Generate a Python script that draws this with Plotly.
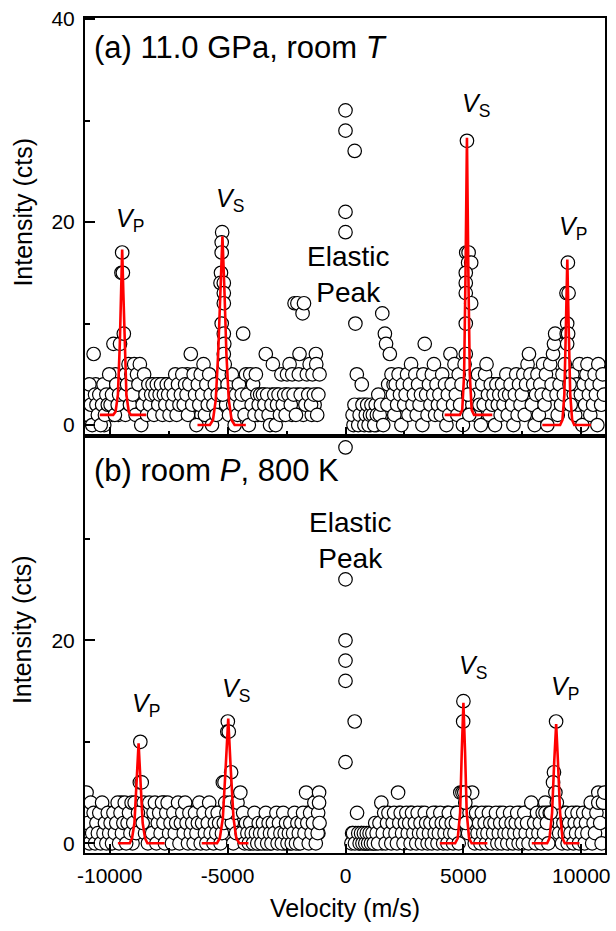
import plotly.graph_objects as go

# ---------------- data: panel (a) 11.0 GPa, room T ----------------
A_BG = [
    (-10980, 3), (-10920, 1), (-10860, 4), (-10800, 2), (-10740, 0), (-10680, 7), (-10620, 3), (-10560, 2),
    (-10500, 1), (-10440, 3), (-10380, 0), (-10320, 2), (-10260, 4), (-10200, 1), (-10140, 3), (-10080, 2),
    (-10020, 5), (-9960, 2), (-9900, 3), (-9840, 8), (-9780, 1), (-9720, 4), (-9660, 2), (-9600, 3),
    (-9360, 3), (-9320, 5), (-9260, 4), (-9200, 6), (-9140, 2), (-9080, 5), (-9020, 3), (-8960, 6),
    (-8900, 1), (-8840, 5), (-8780, 4), (-8720, 6), (-8660, 0), (-8600, 2), (-8540, 5), (-8480, 3),
    (-8420, 1), (-8360, 4), (-8300, 2), (-8240, 3), (-8180, 4), (-8120, 1), (-8060, 3), (-8000, 4),
    (-7940, 2), (-7880, 3), (-7820, 4), (-7760, 1), (-7700, 3), (-7640, 2), (-7580, 4), (-7520, 3),
    (-7460, 1), (-7400, 4), (-7340, 2), (-7280, 3), (-7220, 5), (-7160, 1), (-7100, 4), (-7040, 2),
    (-6980, 3), (-6920, 5), (-6860, 2), (-6800, 4), (-6740, 3), (-6680, 1), (-6620, 4), (-6560, 7),
    (-6500, 2), (-6440, 5), (-6380, 3), (-6320, 0), (-6260, 4), (-6200, 2), (-6140, 5), (-6080, 3),
    (-6020, 6), (-5960, 1), (-5900, 4), (-5840, 2), (-5780, 5), (-5720, 3), (-5660, 0), (-5600, 2),
    (-5540, 4), (-5480, 1), (-5420, 3), (-5060, 2), (-5000, 4), (-4940, 1), (-4880, 3), (-4820, 5),
    (-4760, 2), (-4700, 0), (-4640, 3), (-4580, 1), (-4520, 4), (-4460, 2), (-4400, 3), (-4340, 9),
    (-4280, 1), (-4220, 5), (-4160, 3), (-4100, 0), (-4040, 5), (-3980, 2), (-3920, 4), (-3860, 1),
    (-3800, 5), (-3740, 3), (-3680, 2), (-3620, 3), (-3560, 1), (-3500, 3), (-3440, 2), (-3380, 7),
    (-3320, 3), (-3260, 1), (-3200, 0), (-3140, 2), (-3080, 6), (-3020, 3), (-2960, 0), (-2900, 2),
    (-2840, 3), (-2780, 1), (-2720, 5), (-2660, 2), (-2600, 3), (-2540, 1), (-2480, 5), (-2420, 3),
    (-2370, 6), (-2320, 2), (-2260, 5), (-2200, 3), (-2160, 12), (-2100, 1), (-2040, 12), (-1980, 5),
    (-1950, 7), (-1900, 3), (-1820, 11), (-1760, 12), (-1700, 2), (-1640, 5), (-1580, 3), (-1520, 6),
    (-1460, 2), (-1400, 5), (-1340, 3), (-1255, 7), (-1240, 6), (-1200, 1), (-1150, 3), (-1100, 5),
    (300, 1), (380, 2), (480, 5), (540, 0), (600, 1), (690, 4), (720, 2), (800, 0),
    (860, 1), (920, 2), (980, 0), (1040, 1), (1100, 2), (1160, 1), (1220, 0), (1280, 2),
    (1330, 1), (1390, 3), (1450, 1), (1500, 2), (1560, 11), (1600, 0), (1670, 9), (1720, 8),
    (1780, 2), (1880, 7), (1950, 5), (2010, 3), (2070, 1), (2130, 4), (2190, 2), (2250, 5),
    (2310, 3), (2370, 0), (2430, 4), (2490, 2), (2550, 3), (2610, 5), (2670, 1), (2730, 4),
    (2780, 6), (2840, 2), (2900, 3), (2960, 5), (3020, 1), (3080, 4), (3140, 2), (3200, 3),
    (3260, 0), (3300, 5), (3360, 8), (3420, 3), (3480, 1), (3540, 4), (3600, 2), (3660, 5),
    (3720, 3), (3750, 6), (3800, 1), (3860, 4), (3920, 2), (3980, 3), (4040, 1), (4100, 5),
    (4160, 2), (4220, 4), (4280, 0), (4340, 3), (4400, 1), (4450, 7), (4500, 4), (4560, 2),
    (4620, 6), (4680, 3), (4740, 1), (4800, 5), (4860, 2), (4920, 4), (4980, 0),
    (5380, 2), (5440, 4), (5500, 1), (5560, 3), (5620, 5), (5680, 2), (5740, 0), (5800, 4),
    (5860, 2), (5920, 5), (5980, 6), (6040, 3), (6100, 1), (6160, 4), (6220, 2), (6280, 3),
    (6340, 0), (6400, 4), (6460, 2), (6520, 3), (6580, 1), (6640, 4), (6700, 2), (6760, 3),
    (6820, 5), (6880, 1), (6940, 3), (7000, 4), (7060, 2), (7120, 0), (7180, 3), (7240, 5),
    (7300, 1), (7360, 4), (7420, 2), (7480, 3), (7540, 5), (7600, 1), (7660, 4), (7720, 6),
    (7780, 7), (7840, 5), (7900, 2), (7960, 4), (8020, 0), (8080, 3), (8140, 5), (8200, 1),
    (8260, 4), (8320, 3), (8380, 6), (8440, 2), (8500, 5), (8560, 0), (8620, 3), (8680, 6),
    (8740, 4), (8800, 7), (8840, 8), (8890, 9), (8950, 3), (9000, 1), (9080, 4), (9140, 2),
    (9200, 5), (9260, 3), (9620, 5), (9680, 3), (9740, 1), (9800, 4), (9860, 2), (9920, 6),
    (9980, 3), (10040, 0), (10100, 4), (10160, 2), (10220, 5), (10260, 6), (10320, 3), (10380, 1),
    (10440, 4), (10500, 2), (10560, 5), (10620, 3), (10680, 0), (10720, 6), (10780, 4), (10840, 2),
    (10900, 5), (10960, 3),
]
# second interleaved scan, panel (a)
A_BG2 = [
    (-10950, 1), (-10830, 3), (-10710, 2), (-10590, 4), (-10470, 2), (-10350, 3), (-10230, 0), (-10110, 4),
    (-9990, 3), (-9870, 1), (-9750, 5), (-9630, 1), (-9330, 1), (-9230, 3), (-9110, 4), (-8990, 2),
    (-8870, 3), (-8750, 2), (-8630, 4), (-8510, 2), (-8390, 3), (-8270, 4), (-8150, 3), (-8030, 2),
    (-7910, 4), (-7790, 3), (-7670, 4), (-7550, 2), (-7430, 3), (-7310, 4), (-7190, 3), (-7070, 3),
    (-6950, 2), (-6830, 3), (-6710, 5), (-6590, 3), (-6470, 1), (-6350, 2), (-6230, 3), (-6110, 1),
    (-5990, 4), (-5870, 3), (-5750, 2), (-5630, 4), (-5510, 3), (-5030, 3), (-4910, 2), (-4790, 4),
    (-4670, 1), (-4550, 3), (-4430, 4), (-4310, 2), (-4190, 1), (-4070, 3), (-3950, 3), (-3830, 2),
    (-3710, 1), (-3590, 2), (-3470, 3), (-3350, 1), (-3230, 2), (-3110, 3), (-2990, 1), (-2870, 3),
    (-2750, 2), (-2630, 1), (-2510, 3), (-2390, 2), (-2270, 1), (-2150, 2), (-2030, 3), (-1910, 2),
    (-1790, 1), (-1670, 3), (-1550, 2), (-1430, 1), (-1310, 2), (-1190, 3),
    (340, 0), (460, 1), (580, 2), (700, 1), (820, 2), (940, 1), (1060, 0), (1180, 2),
    (1300, 0), (1420, 2), (1540, 1), (1660, 2), (1810, 4), (1920, 2), (2040, 4), (2160, 3),
    (2280, 2), (2400, 3), (2520, 4), (2640, 3), (2760, 2), (2880, 4), (3000, 3), (3120, 4),
    (3240, 2), (3380, 4), (3500, 3), (3620, 4), (3740, 2), (3880, 3), (4000, 4), (4120, 3),
    (4240, 2), (4380, 4), (4520, 3), (4640, 4), (4760, 3), (4880, 3),
    (5410, 3), (5530, 4), (5650, 3), (5770, 3), (5890, 4), (6010, 2), (6130, 3), (6250, 4),
    (6370, 3), (6490, 4), (6610, 3), (6730, 4), (6850, 3), (6970, 2), (7090, 3), (7210, 4),
    (7330, 3), (7450, 4), (7570, 3), (7690, 2), (7810, 3), (7930, 3), (8050, 4), (8170, 3),
    (8290, 2), (8410, 4), (8530, 3), (8650, 4), (8770, 5), (9110, 3), (9230, 4), (9590, 3),
    (9710, 4), (9830, 3), (9950, 4), (10070, 3), (10190, 4), (10310, 2), (10430, 3), (10550, 4),
    (10670, 3), (10790, 5), (10910, 4),
]
A_PEAKS = [
    (-9560, 8), (-9500, 15), (-9470, 17), (-9440, 15), (-9400, 9),
    (-5230, 19), (-5250, 18), (-5250, 17), (-5280, 15), (-5300, 14), (-5160, 14), (-5160, 13),
    (-5160, 12), (-5250, 10), (-5160, 9), (-5140, 8), (-5160, 7), (-5120, 6), (-5200, 3),
    (5150, 28), (5120, 17), (5220, 17), (5200, 16), (5330, 16), (5100, 15), (5100, 14), (5100, 13),
    (5330, 12), (5100, 10), (5100, 7), (5050, 6), (5200, 3), (5250, 1),
    (9430, 16), (9370, 13), (9460, 13), (9400, 10), (9380, 9), (9440, 9), (9400, 8), (9300, 6),
    (9500, 4), (9550, 2),
]
A_ELASTIC = [(0, 31), (0, 29), (0, 21), (0, 19), (390, 27), (420, 10)]

# fitted curves, panel (a)
A_FIT_VP_L_X = [-10420, -9850, -9750, -9650, -9570, -9520, -9470, -9420, -9370, -9290, -9190, -9100, -8450]
A_FIT_VP_L_Y = [1, 1, 1.3, 3, 8, 13, 17.3, 13, 8, 3, 1.3, 1, 1]
A_FIT_VS_L_X = [-6276, -5750, -5620, -5500, -5400, -5320, -5218, -5130, -5050, -4950, -4830, -4700, -4226]
A_FIT_VS_L_Y = [0, 0, 0.5, 2.5, 7, 13, 18.6, 13, 7, 2.5, 0.5, 0, 0]
A_FIT_VS_R_X = [4205, 4850, 4950, 5030, 5090, 5150, 5210, 5270, 5350, 5450, 6226]
A_FIT_VS_R_Y = [1, 1, 1.5, 5, 15, 28.3, 15, 5, 1.5, 1, 1]
A_FIT_VP_R_X = [8347, 9100, 9200, 9280, 9340, 9406, 9470, 9530, 9610, 9700, 10410]
A_FIT_VP_R_Y = [0, 0, 0.5, 3, 9, 16.3, 9, 3, 0.5, 0, 0]

# ---------------- data: panel (b) room P, 800 K ----------------
B_BG = [
    (-10980, 5), (-10920, 2), (-10860, 0), (-10800, 4), (-10740, 1), (-10680, 3), (-10620, 0), (-10560, 2),
    (-10500, 1), (-10440, 3), (-10380, 0), (-10320, 4), (-10260, 1), (-10200, 2), (-10140, 0), (-10080, 3),
    (-10020, 1), (-9960, 2), (-9900, 0), (-9840, 3), (-9780, 1), (-9720, 2), (-9660, 4), (-9600, 0),
    (-9540, 3), (-9480, 1), (-9420, 2), (-9360, 4), (-9300, 0), (-9240, 2), (-9180, 3), (-9120, 1),
    (-9070, 4), (-9000, 2), (-8940, 4), (-8880, 1),
    (-8560, 4), (-8500, 1), (-8440, 3), (-8380, 0), (-8320, 4), (-8260, 2), (-8200, 1), (-8140, 3),
    (-8080, 4), (-8020, 0), (-7960, 2), (-7900, 3), (-7840, 1), (-7780, 4), (-7720, 2), (-7660, 0),
    (-7600, 3), (-7540, 4), (-7480, 1), (-7420, 2), (-7360, 0), (-7300, 3), (-7240, 1), (-7180, 2),
    (-7100, 4), (-7040, 0), (-6980, 2), (-6920, 3), (-6860, 1), (-6800, 4), (-6740, 2), (-6680, 0),
    (-6620, 3), (-6560, 1), (-6500, 2), (-6440, 0), (-6380, 3), (-6320, 1), (-6260, 2), (-6200, 4),
    (-6140, 0), (-6080, 2), (-6020, 3), (-5960, 1), (-5900, 0), (-5840, 2), (-5780, 4), (-5720, 1),
    (-5660, 3), (-5600, 0), (-5540, 2), (-5480, 1), (-5420, 3), (-5360, 2), (-5300, 0), (-5240, 1),
    (-5160, 2), (-5100, 4), (-4900, 4), (-4820, 2), (-4760, 0), (-4700, 3), (-4640, 1), (-4580, 4),
    (-4400, 1), (-4340, 3), (-4280, 0), (-4220, 2), (-4160, 1), (-4100, 0), (-4040, 2), (-3980, 1),
    (-3920, 0), (-3860, 3), (-3800, 1), (-3740, 0), (-3680, 2), (-3620, 1), (-3560, 0), (-3500, 2),
    (-3440, 1), (-3380, 3), (-3320, 0), (-3260, 2), (-3200, 1), (-3140, 0), (-3080, 2), (-3020, 1),
    (-2930, 3), (-2880, 0), (-2820, 2), (-2760, 1), (-2700, 0), (-2640, 3), (-2580, 1), (-2520, 2),
    (-2460, 0), (-2400, 1), (-2340, 2), (-2280, 0), (-2220, 1), (-2160, 3), (-2100, 0), (-2040, 2),
    (-1980, 1), (-1920, 0), (-1860, 2), (-1800, 3), (-1740, 1), (-1670, 5), (-1620, 2), (-1560, 0),
    (-1500, 3), (-1440, 1), (-1380, 2), (-1320, 4), (-1260, 0), (-1180, 1), (-1160, 3), (-1120, 5),
    (-1120, 4), (-1100, 2),
    (250, 0), (320, 1), (400, 0), (490, 3), (540, 1), (600, 0), (660, 1), (720, 0),
    (780, 1), (840, 0), (900, 1), (960, 0), (1020, 1), (1080, 0), (1140, 1), (1200, 0),
    (1260, 2), (1320, 1), (1380, 0), (1440, 2), (1520, 4), (1580, 1), (1640, 3), (1700, 0),
    (1760, 2), (1820, 3), (1880, 1), (1940, 0), (2000, 2), (2060, 3), (2120, 1), (2180, 0),
    (2230, 5), (2280, 2), (2340, 3), (2400, 1), (2460, 0), (2520, 2), (2580, 3), (2640, 1),
    (2700, 2), (2760, 0), (2820, 3), (2880, 1), (2940, 2), (3000, 0), (3060, 3), (3120, 1),
    (3180, 2), (3240, 0), (3300, 1), (3360, 3), (3420, 2), (3480, 0), (3540, 1), (3600, 2),
    (3660, 0), (3720, 3), (3780, 1), (3840, 2), (3900, 0), (3960, 1), (4020, 3), (4080, 2),
    (4140, 0), (4200, 1), (4260, 2), (4320, 0), (4380, 3), (4440, 1), (4500, 2), (4560, 0),
    (4620, 1), (4680, 2), (4740, 3), (4800, 0), (4870, 5),
    (5200, 1), (5260, 3), (5370, 5), (5420, 2), (5480, 0), (5540, 3), (5600, 1), (5660, 2),
    (5720, 0), (5780, 3), (5840, 1), (5900, 2), (5960, 0), (6020, 1), (6080, 3), (6140, 2),
    (6200, 0), (6260, 1), (6320, 2), (6380, 3), (6440, 0), (6500, 1), (6560, 2), (6620, 0),
    (6680, 3), (6740, 1), (6800, 2), (6860, 0), (6920, 1), (6980, 3), (7040, 2), (7100, 0),
    (7160, 1), (7220, 2), (7280, 3), (7340, 0), (7400, 1), (7460, 2), (7520, 0), (7580, 3),
    (7640, 1), (7700, 2), (7760, 0), (7880, 4), (7940, 1), (8000, 2), (8060, 0), (8120, 3),
    (8180, 1), (8240, 2), (8300, 0), (8360, 3), (8420, 1), (8480, 3), (8540, 2), (8600, 0),
    (8660, 3), (9060, 1), (9120, 3), (9180, 0), (9240, 2), (9300, 1), (9360, 3), (9420, 0),
    (9480, 2), (9540, 1), (9600, 3), (9660, 0), (9720, 2), (9780, 1), (9840, 3), (9900, 0),
    (9960, 2), (10020, 1), (10080, 3), (10140, 0), (10200, 2), (10260, 1), (10320, 3), (10400, 4),
    (10460, 0), (10520, 2), (10580, 1), (10640, 3), (10720, 5), (10720, 4), (10800, 2), (10860, 0),
    (10920, 4), (10980, 5),
]
# second interleaved scan, panel (b)
B_BG2 = [
    (-10950, 3), (-10830, 1), (-10710, 2), (-10590, 3), (-10470, 2), (-10350, 1), (-10230, 3), (-10110, 2),
    (-9990, 0), (-9870, 2), (-9750, 3), (-9630, 1), (-9510, 4), (-9390, 1), (-9270, 3), (-9150, 2),
    (-9030, 0), (-8530, 2), (-8410, 3), (-8290, 1), (-8170, 2), (-8050, 3), (-7930, 1), (-7810, 2),
    (-7690, 4), (-7570, 2), (-7450, 3), (-7330, 1), (-7210, 3), (-7090, 2), (-6970, 1), (-6850, 3),
    (-6730, 1), (-6610, 2), (-6490, 3), (-6370, 2), (-6250, 1), (-6130, 3), (-6010, 2), (-5890, 3),
    (-5770, 1), (-5650, 2), (-5530, 3), (-5410, 1), (-4870, 3), (-4750, 2), (-4630, 3), (-4510, 2),
    (-4390, 2), (-4270, 1), (-4150, 2), (-4030, 0), (-3910, 1), (-3790, 2), (-3670, 0), (-3550, 1),
    (-3430, 0), (-3310, 2), (-3190, 0), (-3070, 1), (-2950, 2), (-2830, 1), (-2710, 2), (-2590, 0),
    (-2470, 1), (-2350, 0), (-2230, 2), (-2110, 1), (-1990, 0), (-1870, 1), (-1750, 2), (-1630, 3),
    (-1510, 1), (-1390, 3), (-1270, 2), (-1150, 1),
    (280, 1), (430, 1), (570, 0), (690, 1), (810, 0), (930, 0), (1050, 1), (1170, 0),
    (1290, 0), (1410, 1), (1550, 0), (1670, 2), (1790, 1), (1910, 2), (2030, 1), (2150, 2),
    (2270, 3), (2390, 2), (2510, 1), (2630, 2), (2750, 3), (2870, 2), (2990, 1), (3110, 2),
    (3230, 3), (3350, 1), (3470, 2), (3590, 1), (3710, 2), (3830, 3), (3950, 2), (4070, 1),
    (4190, 2), (4310, 3), (4430, 2), (4550, 1), (4670, 3), (4790, 2),
    (5230, 2), (5350, 1), (5470, 3), (5590, 2), (5710, 1), (5830, 2), (5950, 3), (6070, 1),
    (6190, 2), (6310, 1), (6430, 2), (6550, 3), (6670, 2), (6790, 1), (6910, 2), (7030, 1),
    (7150, 2), (7270, 1), (7390, 3), (7510, 2), (7630, 3), (7750, 1), (7870, 2), (7990, 3),
    (8110, 2), (8230, 1), (8350, 2), (8470, 4), (8590, 3), (9030, 2), (9150, 1), (9270, 3),
    (9390, 2), (9510, 1), (9630, 2), (9750, 3), (9870, 1), (9990, 2), (10110, 1), (10230, 3),
    (10350, 2), (10470, 3), (10590, 2), (10710, 3), (10830, 3), (10950, 4),
]
B_PEAKS = [
    (-8700, 10), (-8720, 6), (-8640, 6), (-8800, 3), (-8600, 2),
    (-4990, 12), (-5010, 11), (-4950, 11), (-4850, 7), (-5200, 6), (-5130, 6), (-4460, 5), (-5050, 3),
    (5000, 14), (4990, 12), (4960, 5), (5040, 5), (5080, 4), (5100, 2),
    (8930, 12), (8840, 7), (8800, 6), (8900, 5), (8960, 4), (8700, 3),
]
B_ELASTIC = [(0, 39), (0, 26), (0, 20), (0, 18), (0, 16), (0, 8), (390, 12)]

B_FIT_VP_L_X = [-9652, -9150, -9050, -8950, -8860, -8774, -8690, -8600, -8500, -8400, -7670]
B_FIT_VP_L_Y = [0, 0, 0.5, 2, 6, 9.85, 6, 2, 0.5, 0, 0]
B_FIT_VS_L_X = [-6097, -5450, -5330, -5200, -5080, -4972, -4870, -4750, -4630, -4500, -4114]
B_FIT_VS_L_Y = [0, 0, 0.5, 2.5, 7.5, 12.3, 7.5, 2.5, 0.5, 0, 0]
B_FIT_VS_R_X = [3996, 4650, 4760, 4860, 4930, 5000, 5070, 5140, 5240, 5350, 6017]
B_FIT_VS_R_Y = [0, 0, 0.5, 3, 9, 13.85, 9, 3, 0.5, 0, 0]
B_FIT_VP_R_X = [7900, 8550, 8650, 8760, 8850, 8933, 9010, 9100, 9200, 9300, 9921]
B_FIT_VP_R_Y = [0, 0, 0.5, 3, 8, 11.75, 8, 3, 0.5, 0, 0]

# labels: (subscript, x, y)
A_LABELS = [("P", -9806, 20.2), ("S", -5580, 22.2), ("S", 4850, 31.5), ("P", 8964, 19.4)]
B_LABELS = [("P", -9136, 13.6), ("S", -5304, 15.1), ("S", 4712, 17.4), ("P", 8616, 15.3)]

X_TICKS = [-10000, -5000, 0, 5000, 10000]
X_TICK_TEXT = ["-10000", "-5000", "0", "5000", "10000"]

FONT = "Liberation Sans, Arial, sans-serif"

fig = go.Figure()

def add_points(pts, xa, ya):
    fig.add_trace(go.Scatter(
        x=[p[0] for p in pts], y=[p[1] for p in pts], mode="markers",
        xaxis=xa, yaxis=ya, showlegend=False, hoverinfo="skip",
        marker=dict(symbol="circle", size=13.5, color="white",
                    line=dict(color="black", width=1.2)),
    ))

def add_fit(xs, ys, xa, ya):
    fig.add_trace(go.Scatter(
        x=xs, y=ys, mode="lines", xaxis=xa, yaxis=ya, showlegend=False,
        hoverinfo="skip", line=dict(color="#ff0000", width=2.6),
    ))

add_points(A_BG2 + A_BG + A_PEAKS + A_ELASTIC, "x2", "y2")
add_points(B_BG2 + B_BG + B_PEAKS + B_ELASTIC, "x", "y")
for xs, ys in [(A_FIT_VP_L_X, A_FIT_VP_L_Y), (A_FIT_VS_L_X, A_FIT_VS_L_Y),
               (A_FIT_VS_R_X, A_FIT_VS_R_Y), (A_FIT_VP_R_X, A_FIT_VP_R_Y)]:
    add_fit(xs, ys, "x2", "y2")
for xs, ys in [(B_FIT_VP_L_X, B_FIT_VP_L_Y), (B_FIT_VS_L_X, B_FIT_VS_L_Y),
               (B_FIT_VS_R_X, B_FIT_VS_R_Y), (B_FIT_VP_R_X, B_FIT_VP_R_Y)]:
    add_fit(xs, ys, "x", "y")

XR = [-11046, 11004]
SPLIT = (853 - 436) / 835

common_x = dict(
    range=XR, showline=True, linecolor="black", linewidth=2, mirror=True,
    ticks="inside", ticklen=9, tickwidth=1.5, tickcolor="black",
    tickvals=X_TICKS, ticktext=X_TICK_TEXT, showgrid=False, zeroline=False,
    minor=dict(ticks="inside", ticklen=5, tickwidth=1.5, tickcolor="black",
               tickvals=[-7500, -2500, 2500, 7500]),
    tickfont=dict(family=FONT, size=21, color="black"),
)
common_y = dict(
    showline=True, linecolor="black", linewidth=2, mirror=True,
    ticks="inside", ticklen=10, tickwidth=1.5, tickcolor="black",
    showgrid=False, zeroline=False, ticklabelstandoff=4,
    minor=dict(ticks="inside", ticklen=5, tickwidth=1.5, tickcolor="black",
               tickvals=[10, 30]),
    tickfont=dict(family=FONT, size=21, color="black"),
)

fig.update_layout(
    width=616, height=931,
    margin=dict(l=85, r=6, t=18, b=78),
    paper_bgcolor="white", plot_bgcolor="white",
    font=dict(family=FONT, color="black"),
    xaxis=dict(common_x, anchor="y", ticklabelstandoff=3),
    xaxis2=dict(common_x, anchor="y2", matches="x", showticklabels=False),
    yaxis=dict(common_y, domain=[0, SPLIT], anchor="x", range=[-0.956, 40.13],
               tickvals=[0, 20], ticktext=["0", "20"]),
    yaxis2=dict(common_y, domain=[SPLIT, 1], anchor="x2", range=[-1.08, 40.1],
                tickvals=[0, 20, 40], ticktext=["0", "20", "40"]),
)

ann = []
for sub, x, y in A_LABELS:
    ann.append(dict(text=f"<i>V</i><sub>{sub}</sub>", x=x, y=y, xref="x2", yref="y2",
                    xanchor="left", yanchor="middle", showarrow=False,
                    font=dict(family=FONT, size=25, color="black")))
for sub, x, y in B_LABELS:
    ann.append(dict(text=f"<i>V</i><sub>{sub}</sub>", x=x, y=y, xref="x", yref="y",
                    xanchor="left", yanchor="middle", showarrow=False,
                    font=dict(family=FONT, size=25, color="black")))
ann.append(dict(text="Elastic<br>Peak", x=100, y=14.8, xref="x2", yref="y2",
                showarrow=False, font=dict(family=FONT, size=28, color="black")))
ann.append(dict(text="Elastic<br>Peak", x=200, y=29.8, xref="x", yref="y",
                showarrow=False, font=dict(family=FONT, size=28, color="black")))
ann.append(dict(text="(a) 11.0 GPa, room <i>T</i>", x=(92 - 85) / 525, y=(853 - 47) / 835,
                xref="paper", yref="paper", xanchor="left", yanchor="middle",
                showarrow=False, font=dict(family=FONT, size=31, color="black")))
ann.append(dict(text="(b) room <i>P</i>, 800 K", x=(92 - 85) / 525, y=(853 - 470) / 835,
                xref="paper", yref="paper", xanchor="left", yanchor="middle",
                showarrow=False, font=dict(family=FONT, size=31, color="black")))
ann.append(dict(text="Intensity (cts)", x=(22 - 85) / 525, y=(853 - 212) / 835,
                xref="paper", yref="paper", textangle=-90, showarrow=False,
                xanchor="center", yanchor="middle",
                font=dict(family=FONT, size=25, color="black")))
ann.append(dict(text="Intensity (cts)", x=(22 - 85) / 525, y=(853 - 629.5) / 835,
                xref="paper", yref="paper", textangle=-90, showarrow=False,
                xanchor="center", yanchor="middle",
                font=dict(family=FONT, size=25, color="black")))
ann.append(dict(text="Velocity (m/s)", x=(347 - 85) / 525, y=(853 - 908) / 835,
                xref="paper", yref="paper", showarrow=False,
                xanchor="center", yanchor="middle",
                font=dict(family=FONT, size=25, color="black")))
fig.update_layout(annotations=ann)

fig.write_html("out.html", config={"displayModeBar": False},
               post_script="document.body.style.margin='0';document.body.style.overflow='hidden';")
